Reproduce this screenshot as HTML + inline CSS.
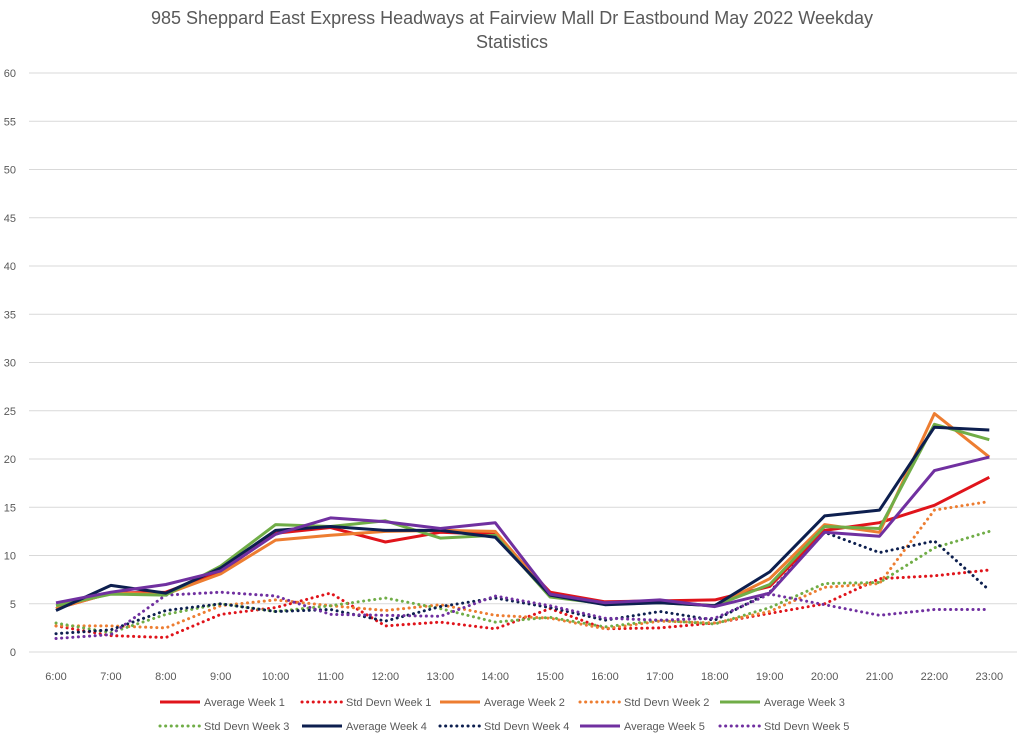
<!DOCTYPE html>
<html><head><meta charset="utf-8"><style>
html,body{margin:0;padding:0;background:#fff;}
svg{display:block;font-family:"Liberation Sans",sans-serif;}
</style></head><body>
<svg id="c" width="1024" height="738" xmlns="http://www.w3.org/2000/svg">
<text x="512" y="24" text-anchor="middle" font-size="18" fill="#595959">985 Sheppard East Express Headways at Fairview Mall Dr Eastbound May 2022 Weekday</text>
<text x="512" y="48" text-anchor="middle" font-size="18" fill="#595959">Statistics</text>
<g id="grid"></g><g id="series"></g><g id="legend"></g>
</svg>
<script>
const NS="http://www.w3.org/2000/svg";
const svg=document.getElementById('c');
function el(t,a,p,txt){const e=document.createElementNS(NS,t);for(const k in a)e.setAttribute(k,a[k]);if(txt!==undefined)e.textContent=txt;p.appendChild(e);return e;}
const y0=652,sc=9.65,x0=56,dx=54.9;
const Y=v=>y0-v*sc,X=i=>x0+i*dx;
const g=document.getElementById('grid');
for(let v=0;v<=60;v+=5){el('line',{x1:29,x2:1017,y1:Y(v),y2:Y(v),stroke:'#d9d9d9','stroke-width':1},g);
el('text',{x:16,y:Y(v)+4,'text-anchor':'end','font-size':11,fill:'#595959'},g,v);}
for(let i=0;i<18;i++)el('text',{x:X(i),y:680,'text-anchor':'middle','font-size':11,fill:'#595959'},g,(6+i)+':00');
const C={r:'#e0141b',o:'#ed7d31',g:'#70ad47',n:'#0d1f4f',p:'#7030a0'};
const S=[
['Average Week 1',C.r,0,[4.5,6.1,6.2,8.3,12.3,12.9,11.4,12.4,12.2,6.2,5.2,5.3,5.4,6.8,12.6,13.4,15.2,18.1]],
['Std Devn Week 1',C.r,1,[2.7,1.7,1.5,3.9,4.6,6.1,2.7,3.1,2.4,4.5,2.4,2.5,3.0,4.0,5.0,7.6,7.9,8.5]],
['Average Week 2',C.o,0,[4.5,6.1,6.0,8.1,11.6,12.1,12.5,12.6,12.5,5.9,5.0,5.2,4.8,7.6,13.2,12.4,24.7,20.2]],
['Std Devn Week 2',C.o,1,[2.7,2.7,2.5,4.8,5.4,4.8,4.3,4.9,3.8,3.5,2.4,3.2,3.0,4.2,6.7,7.1,14.7,15.6]],
['Average Week 3',C.g,0,[4.8,6.0,5.9,8.9,13.2,13.0,13.6,11.8,12.1,5.7,5.0,5.1,4.8,7.0,13.0,12.8,23.6,22.0]],
['Std Devn Week 3',C.g,1,[3.0,2.0,3.9,5.0,4.2,4.8,5.6,4.5,3.1,3.6,2.6,3.3,2.9,4.6,7.1,7.2,10.8,12.5]],
['Average Week 4',C.n,0,[4.3,6.9,6.1,8.7,12.6,13.0,12.6,12.6,11.9,5.9,4.9,5.1,4.8,8.3,14.1,14.7,23.3,23.0]],
['Std Devn Week 4',C.n,1,[1.9,2.3,4.3,5.0,4.2,4.4,3.2,4.7,5.6,4.6,3.3,4.2,3.3,6.2,12.4,10.3,11.5,6.4]],
['Average Week 5',C.p,0,[5.1,6.2,7.0,8.4,12.2,13.9,13.5,12.8,13.4,6.0,5.1,5.4,4.7,6.1,12.4,12.0,18.8,20.2]],
['Std Devn Week 5',C.p,1,[1.4,1.8,5.9,6.2,5.8,3.9,3.8,3.7,5.8,4.8,3.5,3.3,3.5,6.0,4.9,3.8,4.4,4.4]]];
const sg=document.getElementById('series');
function attrs(c,d){const a={fill:'none',stroke:c,'stroke-width':d?2.6:3,'stroke-linejoin':'round'};if(d){a['stroke-dasharray']='0.1 5.5';a['stroke-linecap']='round';a['stroke-width']=3;}return a;}
const order=[1,3,5,7,9,0,2,4,6,8];
for(const k of order){const s=S[k];const a=attrs(s[1],s[2]);a.points=s[3].map((v,i)=>X(i).toFixed(1)+','+Y(v).toFixed(1)).join(' ');el('polyline',a,sg);}
const lg=document.getElementById('legend');
const lx=[160,302,440,580,720];
S.forEach((s,i)=>{const row=i<5?0:1;const col=i%5;const y=row?726:702;const x=lx[col];
const a=attrs(s[1],s[2]);a.points=x+','+y+' '+(x+40)+','+y;el('polyline',a,lg);
el('text',{x:x+44,y:y+4,'font-size':11,fill:'#595959'},lg,s[0]);});
</script>
</body></html>
